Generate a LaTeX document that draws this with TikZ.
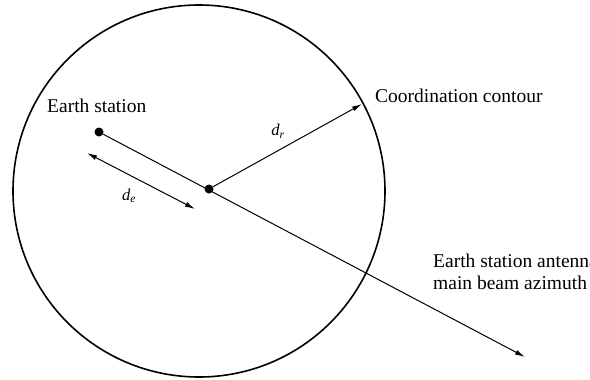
\documentclass[tikz,border=0pt]{standalone}
\usepackage{fontspec}
\setmainfont{Liberation Serif}
\usetikzlibrary{arrows.meta}
\begin{document}
\begin{tikzpicture}[x=1pt,y=-1pt,
  lbl/.style={inner sep=0pt,font=\rmfamily\fontsize{19.5}{22}\selectfont},
  dlbl/.style={inner sep=0pt,font=\rmfamily\fontsize{16.5}{18}\selectfont},
  dot/.style={circle,fill=black,inner sep=0pt,minimum size=9pt},
  conn/.style={line width=1pt,-{Latex[length=10pt,width=5pt]}},
  dbl/.style={line width=1pt,{Latex[length=10pt,width=5pt]}-{Latex[length=10pt,width=5pt]}},
  contour/.style={line width=1.6pt}
]
\useasboundingbox (0,0) rectangle (590,380);
\draw[contour] (199,191) circle (186pt);
\node[dot] (es) at (99,132) {};
\node[dot] (c) at (209,189) {};
\coordinate (tip) at (525,357);
\coordinate (dr) at (362,104);
\coordinate (de1) at (87,153);
\coordinate (de2) at (195,209);
\draw[conn] (es) -- (tip);
\draw[conn] (c) -- (dr);
\draw[dbl] (de1) -- (de2);
\node[lbl,anchor=base west] (est) at (47,112) {Earth station};
\node[lbl,anchor=base west] (cc) at (375,102) {Coordination contour};
\node[lbl,anchor=north west,align=left] (az) at (433,253.5) {Earth station antenna\\main beam azimuth};
\node[dlbl] (del) at (129,196) {\textit{d}\textsubscript{\textit{e}}};
\node[dlbl] (drl) at (278,131) {\textit{d}\textsubscript{\textit{r}}};
\end{tikzpicture}
\end{document}
